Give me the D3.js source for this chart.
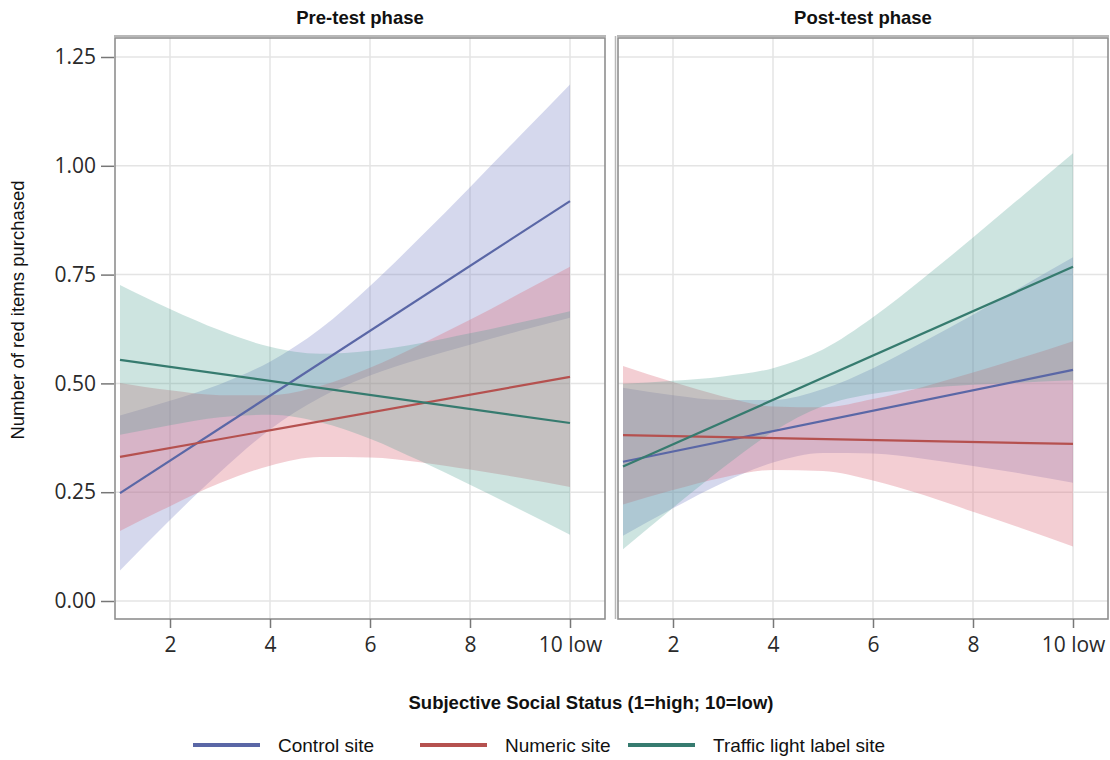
<!DOCTYPE html>
<html>
<head>
<meta charset="utf-8">
<script src="https://cdn.jsdelivr.net/npm/d3@7"></script>
<style>
  body { margin: 0; background: #fff; }
  svg text { font-family: "Liberation Sans", Arial, sans-serif; }
  .tick-lab { font-family: "Open Sans", sans-serif; font-size: 21px; fill: #2a2a2a; }
</style>
</head>
<body>
<div id="chart"></div>
<script>
// values
var ssx = [1, 2, 3, 4, 5, 6, 7, 8, 9, 10];
var fitX = [1, 10];
var xTicks = [2, 4, 6, 8, 10];
var xTickLabels = ["2", "4", "6", "8", "10 low"];
var yTicks = [0, 0.25, 0.5, 0.75, 1.0, 1.25];
var sites = ["Control site", "Numeric site", "Traffic light label site"];
var phases = ["Pre-test phase", "Post-test phase"];

// pre-test
var preControlFit = [0.248, 0.919];
var preControlLo = [0.070, 0.186, 0.296, 0.394, 0.467, 0.518, 0.556, 0.589, 0.621, 0.651];
var preControlHi = [0.426, 0.460, 0.498, 0.550, 0.625, 0.724, 0.835, 0.951, 1.069, 1.187];
var preNumericFit = [0.331, 0.515];
var preNumericLo = [0.161, 0.218, 0.271, 0.311, 0.331, 0.330, 0.319, 0.302, 0.283, 0.262];
var preNumericHi = [0.501, 0.484, 0.473, 0.473, 0.494, 0.536, 0.589, 0.646, 0.707, 0.768];
var preTrafficFit = [0.554, 0.409];
var preTrafficLo = [0.382, 0.404, 0.422, 0.428, 0.411, 0.373, 0.322, 0.267, 0.210, 0.152];
var preTrafficHi = [0.726, 0.671, 0.622, 0.584, 0.568, 0.575, 0.592, 0.615, 0.640, 0.666];

// post-test
var postControlFit = [0.320, 0.531];
var postControlLo = [0.150, 0.213, 0.272, 0.318, 0.340, 0.339, 0.327, 0.310, 0.292, 0.272];
var postControlHi = [0.490, 0.473, 0.462, 0.462, 0.487, 0.535, 0.595, 0.658, 0.724, 0.790];
var postNumericFit = [0.381, 0.361];
var postNumericLo = [0.222, 0.255, 0.284, 0.301, 0.299, 0.277, 0.244, 0.205, 0.166, 0.125];
var postNumericHi = [0.540, 0.503, 0.470, 0.447, 0.445, 0.464, 0.492, 0.525, 0.560, 0.597];
var postTrafficFit = [0.309, 0.768];
var postTrafficLo = [0.119, 0.214, 0.306, 0.389, 0.448, 0.476, 0.489, 0.497, 0.502, 0.507];
var postTrafficHi = [0.499, 0.506, 0.516, 0.535, 0.578, 0.652, 0.741, 0.835, 0.932, 1.029];

var lineColors = ["#5a67a6", "#b5514f", "#367b6f"];
var bandColors = ["#7b86c6", "#dc6f7e", "#4a9d90"];
var bandOpacity = [0.32, 0.34, 0.28];

var panelData = [
  [[preControlFit, preControlLo, preControlHi],
   [preNumericFit, preNumericLo, preNumericHi],
   [preTrafficFit, preTrafficLo, preTrafficHi]],
  [[postControlFit, postControlLo, postControlHi],
   [postNumericFit, postNumericLo, postNumericHi],
   [postTrafficFit, postTrafficLo, postTrafficHi]]
];

var svgWidth = 1110;
var svgHeight = 760;
var panelLeft = [115, 618];
var panelWidth = 490;
var panelTop = 38, panelBottom = 619;

var svg = d3.select("#chart")
  .append("svg")
  .attr("width", svgWidth)
  .attr("height", svgHeight);

var yScale = d3.scaleLinear().domain([0, 1.25]).range([601, 57]);

phases.forEach(function(phase, p) {
  var x0 = panelLeft[p];
  var xScale = d3.scaleLinear().domain([0.9, 10.7]).range([x0, x0 + panelWidth]);
  var g = svg.append("g");

  // grid
  g.selectAll(".vgrid").data(xTicks).enter().append("line")
    .attr("x1", d => xScale(d)).attr("x2", d => xScale(d))
    .attr("y1", panelTop).attr("y2", panelBottom)
    .attr("stroke", "#e4e4e4").attr("stroke-width", 1.5);
  g.selectAll(".hgrid").data(yTicks).enter().append("line")
    .attr("x1", x0).attr("x2", x0 + panelWidth)
    .attr("y1", d => yScale(d)).attr("y2", d => yScale(d))
    .attr("stroke", "#e4e4e4").attr("stroke-width", 1.5);

  // bands
  var area = d3.area()
    .x((d, i) => xScale(ssx[i]))
    .y0(d => yScale(d[0]))
    .y1(d => yScale(d[1]))
    .curve(d3.curveMonotoneX);
  panelData[p].forEach(function(s, k) {
    var pts = s[1].map((lo, i) => [lo, s[2][i]]);
    g.append("path")
      .attr("d", area(pts))
      .attr("fill", bandColors[k])
      .attr("fill-opacity", bandOpacity[k]);
  });

  // fitted lines
  var line = d3.line().x((d, i) => xScale(fitX[i])).y(d => yScale(d));
  panelData[p].forEach(function(s, k) {
    g.append("path")
      .attr("d", line(s[0]))
      .attr("fill", "none")
      .attr("stroke", lineColors[k])
      .attr("stroke-width", 2.2);
  });

  // frame
  g.append("rect")
    .attr("x", x0).attr("y", panelTop)
    .attr("width", panelWidth).attr("height", panelBottom - panelTop)
    .attr("fill", "none").attr("stroke", "#8f8f8f").attr("stroke-width", 1.6);
  g.append("line")
    .attr("x1", x0 - 1).attr("x2", x0 + panelWidth + 1)
    .attr("y1", panelTop - 2).attr("y2", panelTop - 2)
    .attr("stroke", "#b8b8b8").attr("stroke-width", 2);
  if (p == 1) {
    g.append("line")
      .attr("x1", x0 - 2.5).attr("x2", x0 - 2.5)
      .attr("y1", panelTop - 2).attr("y2", panelBottom)
      .attr("stroke", "#b8b8b8").attr("stroke-width", 1.5);
  }

  // x axis
  var xAxis = d3.axisBottom(xScale)
    .tickValues(xTicks)
    .tickSize(9)
    .tickPadding(5)
    .tickFormat((d, i) => xTickLabels[i]);
  var ax = g.append("g")
    .attr("transform", `translate(0, ${panelBottom})`)
    .call(xAxis);
  ax.select(".domain").remove();
  ax.selectAll(".tick line").attr("stroke", "#777").attr("stroke-width", 1.5);
  ax.selectAll(".tick text").attr("class", "tick-lab").attr("dy", "0.9em");

  // title
  svg.append("text")
    .attr("x", x0 + panelWidth / 2)
    .attr("y", 24)
    .attr("text-anchor", "middle")
    .attr("font-size", 18.5)
    .attr("font-weight", "bold")
    .attr("fill", "#111")
    .text(phase);
});

// y axis on left panel
var yAxis = d3.axisLeft(yScale)
  .tickValues(yTicks)
  .tickSize(13)
  .tickPadding(5)
  .tickFormat(d3.format(".2f"));
var ay = svg.append("g")
  .attr("transform", `translate(${panelLeft[0] - 1}, 0)`)
  .call(yAxis);
ay.select(".domain").remove();
ay.selectAll(".tick line").attr("stroke", "#777").attr("stroke-width", 1.5);
ay.selectAll(".tick text").attr("class", "tick-lab");

svg.append("text")
  .attr("transform", "translate(24, 310) rotate(-90)")
  .attr("text-anchor", "middle")
  .attr("font-size", 18.5)
  .attr("fill", "#111")
  .text("Number of red items purchased");

svg.append("text")
  .attr("x", 591)
  .attr("y", 709)
  .attr("text-anchor", "middle")
  .attr("font-size", 18.5)
  .attr("font-weight", "bold")
  .attr("fill", "#111")
  .text("Subjective Social Status (1=high; 10=low)");

// legend
var legX = [193, 420, 628];
sites.forEach(function(name, k) {
  svg.append("line")
    .attr("x1", legX[k]).attr("x2", legX[k] + 67)
    .attr("y1", 745).attr("y2", 745)
    .attr("stroke", lineColors[k]).attr("stroke-width", 4);
  svg.append("text")
    .attr("x", legX[k] + 85)
    .attr("y", 752)
    .attr("font-size", 19)
    .attr("fill", "#111")
    .text(name);
});
</script>
</body>
</html>
